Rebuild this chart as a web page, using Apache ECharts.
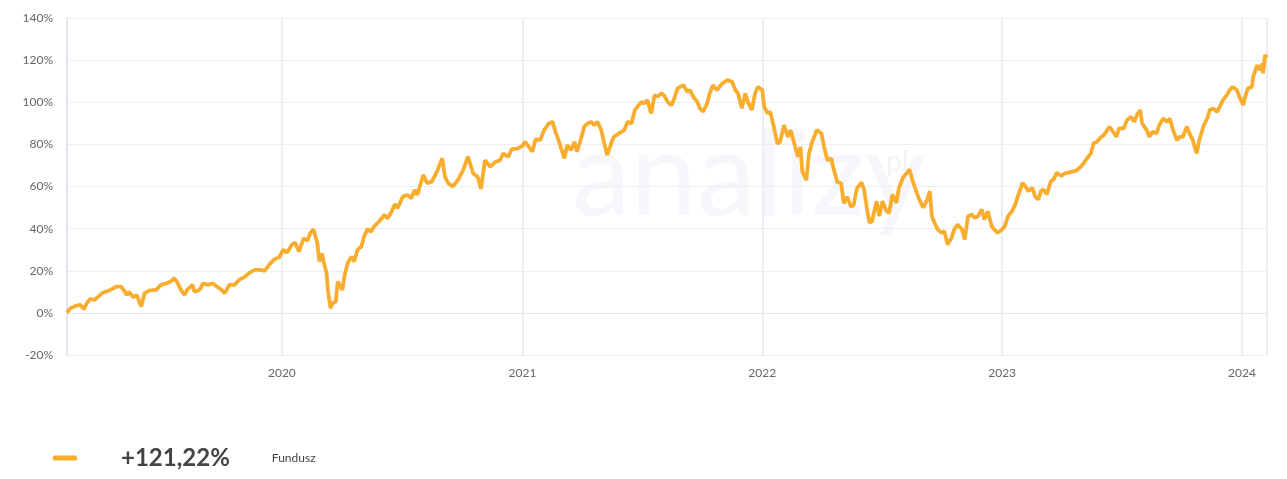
<!DOCTYPE html>
<html>
<head>
<meta charset="utf-8">
<script src="https://cdn.jsdelivr.net/npm/echarts@6/dist/echarts.min.js"></script>
<style>
  html, body { margin: 0; padding: 0; background: #fff; }
  #chart { width: 1287px; height: 479px; }
</style>
</head>
<body>
<div id="chart"></div>
<script>
// daty notowań
var dates = [
  '2019-02-08','2019-02-13','2019-02-21','2019-02-28','2019-03-06','2019-03-10','2019-03-15','2019-03-22',
  '2019-04-02','2019-04-13','2019-04-24','2019-05-01','2019-05-05','2019-05-10','2019-05-13','2019-05-20',
  '2019-05-25','2019-06-01','2019-06-06','2019-06-13','2019-06-24','2019-07-01','2019-07-09','2019-07-16',
  '2019-07-21','2019-07-25','2019-08-01','2019-08-06','2019-08-10','2019-08-18','2019-08-21','2019-08-29',
  '2019-09-03','2019-09-10','2019-09-18','2019-09-24','2019-10-01','2019-10-06','2019-10-13','2019-10-21',
  '2019-10-28','2019-11-06','2019-11-13','2019-11-21','2019-11-28','2019-12-06','2019-12-13','2019-12-21',
  '2019-12-28',
  '2020-01-03','2020-01-09','2020-01-16','2020-01-21','2020-01-27','2020-02-03','2020-02-09','2020-02-13',
  '2020-02-18','2020-02-24','2020-02-27','2020-03-02','2020-03-05','2020-03-09','2020-03-11','2020-03-15',
  '2020-03-18','2020-03-23','2020-03-26','2020-03-30','2020-04-02','2020-04-05','2020-04-10','2020-04-16',
  '2020-04-20','2020-04-25','2020-05-01','2020-05-05','2020-05-10','2020-05-16','2020-05-20','2020-05-28',
  '2020-06-05','2020-06-10','2020-06-16','2020-06-21','2020-06-25','2020-07-03','2020-07-10','2020-07-16',
  '2020-07-21','2020-07-25','2020-08-03','2020-08-09','2020-08-16','2020-08-24','2020-09-01','2020-09-05',
  '2020-09-10','2020-09-17','2020-09-25','2020-10-03','2020-10-10','2020-10-18','2020-10-25','2020-10-30',
  '2020-11-05','2020-11-13','2020-11-21','2020-11-28','2020-12-03','2020-12-10','2020-12-16','2020-12-24',
  '2021-01-01','2021-01-05','2021-01-10','2021-01-16','2021-01-21','2021-01-28','2021-02-03','2021-02-10',
  '2021-02-16','2021-02-21','2021-02-25','2021-03-01','2021-03-06','2021-03-10','2021-03-16','2021-03-21',
  '2021-03-25','2021-04-01','2021-04-05','2021-04-10','2021-04-16','2021-04-20','2021-04-25','2021-05-01',
  '2021-05-05','2021-05-10','2021-05-16','2021-05-20','2021-05-28','2021-06-05','2021-06-10','2021-06-16',
  '2021-06-21','2021-06-25','2021-07-01','2021-07-05','2021-07-10','2021-07-16','2021-07-21','2021-07-25',
  '2021-08-01','2021-08-05','2021-08-10','2021-08-16','2021-08-21','2021-08-25','2021-09-03','2021-09-09',
  '2021-09-13','2021-09-18','2021-09-24','2021-09-28','2021-10-03','2021-10-09','2021-10-13','2021-10-18',
  '2021-10-24','2021-11-01','2021-11-09','2021-11-16','2021-11-21','2021-11-25','2021-12-01','2021-12-06',
  '2021-12-10','2021-12-16','2021-12-21','2021-12-25',
  '2022-01-01','2022-01-04','2022-01-09','2022-01-13','2022-01-18','2022-01-24','2022-01-28','2022-02-03',
  '2022-02-09','2022-02-13','2022-02-18','2022-02-24','2022-02-28','2022-03-03','2022-03-09','2022-03-13',
  '2022-03-18','2022-03-25','2022-04-01','2022-04-05','2022-04-10','2022-04-16','2022-04-20','2022-04-25',
  '2022-05-01','2022-05-05','2022-05-10','2022-05-16','2022-05-20','2022-05-25','2022-06-01','2022-06-05',
  '2022-06-09','2022-06-13','2022-06-17','2022-06-24','2022-06-28','2022-07-03','2022-07-09','2022-07-13',
  '2022-07-18','2022-07-24','2022-07-28','2022-08-03','2022-08-09','2022-08-13','2022-08-18','2022-08-24',
  '2022-08-28','2022-09-03','2022-09-09','2022-09-13','2022-09-16','2022-09-20','2022-09-25','2022-10-01',
  '2022-10-05','2022-10-10','2022-10-16','2022-10-20','2022-10-25','2022-11-01','2022-11-05','2022-11-10',
  '2022-11-16','2022-11-20','2022-11-25','2022-12-01','2022-12-05','2022-12-10','2022-12-16','2022-12-20',
  '2022-12-25',
  '2023-01-01','2023-01-05','2023-01-10','2023-01-16','2023-01-21','2023-01-25','2023-02-01','2023-02-05',
  '2023-02-10','2023-02-16','2023-02-20','2023-02-25','2023-03-01','2023-03-05','2023-03-10','2023-03-16',
  '2023-03-20','2023-03-25','2023-04-01','2023-04-05','2023-04-10','2023-04-24','2023-05-03','2023-05-10',
  '2023-05-16','2023-05-20','2023-05-25','2023-06-01','2023-06-05','2023-06-13','2023-06-17','2023-06-24',
  '2023-06-28','2023-07-05','2023-07-10','2023-07-16','2023-07-21','2023-07-25','2023-07-30','2023-08-02',
  '2023-08-09','2023-08-13','2023-08-18','2023-08-24','2023-08-28','2023-09-03','2023-09-09','2023-09-13',
  '2023-09-18','2023-09-24','2023-09-28','2023-10-03','2023-10-09','2023-10-13','2023-10-18','2023-10-24',
  '2023-10-28','2023-11-03','2023-11-09','2023-11-13','2023-11-18','2023-11-24','2023-11-28','2023-12-03',
  '2023-12-09','2023-12-13','2023-12-18','2023-12-24','2023-12-28',
  '2024-01-03','2024-01-05','2024-01-10','2024-01-16','2024-01-18','2024-01-24','2024-01-28','2024-02-01',
  '2024-02-02','2024-02-05','2024-02-08'
];

// stopa zwrotu funduszu w %
var values = [
  0, 2.2, 3.3, 3.8, 1.7, 4.6, 6.5, 6.2,
  9.3, 10.6, 12.5, 12.5, 11, 8.5, 10, 7.4,
  8.5, 3, 9.3, 10.6, 11, 13.3, 14, 14.9,
  16.5, 14.9, 10.6, 8.5, 11, 13.3, 10, 11,
  14, 13.3, 14, 12.5, 11, 9.3, 13.3, 13.3,
  15.7, 17.2, 19.1, 20.4, 20.4, 20, 23, 25.5,
  26.4,
  29.9, 28.6, 32.3, 33.4, 29.1, 35.4, 34.3, 37.8,
  39.7, 33, 24.4, 28.3, 23.6, 18.8, 10.9, 2.2,
  4.6, 5.4, 14.9, 12.5, 10.9, 17.2, 23.6, 26.7,
  24.4, 29.9, 31.5, 36.2, 39.7, 38.6, 41, 43.4,
  46.5, 44.9, 48.1, 51.7, 49.7, 55.2, 56, 54.4,
  58.4, 56, 65.5, 61.6, 62.3, 67.1, 73.4, 64.7,
  61.6, 60, 63.1, 67.9, 74.2, 66.3, 64.5, 58.8,
  72.5, 69.4, 71.7, 72.5, 75.7, 74.1, 77.7, 78,
  79.3, 81.2, 79.2, 76.5, 82.4, 82, 86.8, 89.9,
  90.7, 85.2, 82, 78, 73.3, 79.6, 77.3, 81.2,
  76.5, 83.6, 88.4, 89.9, 90.7, 89.1, 90.7, 86.8,
  81.2, 74.9, 80.4, 83.6, 85.2, 86.8, 90.7, 89.9,
  96.3, 97.8, 100.2, 99.4, 101, 94.7, 103.4, 102.6,
  104.2, 103, 100.2, 98.6, 102.6, 106.6, 108.1, 105,
  105.8, 102.6, 100.2, 97.1, 95.5, 99.4, 104.2, 108.1,
  105.8, 108.9, 110.5, 109.7, 105.8, 104.2, 97.1, 104.2,
  100.2, 96.3, 104.2, 107.3,
  105.8, 97.8, 94.7, 95.5, 89.1, 80.4, 81.2, 89.1,
  83.6, 86.8, 81.2, 74.1, 78.9, 67, 63, 75.7,
  81.2, 86.8, 85.2, 78.9, 72.5, 73.3, 67.8, 62.2,
  61.5, 52, 55.1, 50.4, 51.2, 59.1, 62, 58.3,
  50, 42.8, 43.5, 53, 45.9, 53, 48.3, 47.5,
  56.2, 52.2, 59.4, 64.1, 66.5, 68.1, 62.5, 57,
  53.8, 49.9, 53.8, 57.8, 45.9, 42.8, 39.6, 38,
  38.8, 32.5, 35.6, 39.6, 42, 39.6, 34.8, 45.9,
  46.7, 45.1, 45.9, 49.1, 44.3, 48.3, 41.2, 39.6,
  38,
  39.6, 41.2, 45.9, 48.3, 51.5, 55.4, 61.7, 60.2,
  57.8, 59.4, 55.4, 53.8, 57.8, 58.6, 56.2, 62.5,
  63.3, 66.5, 65, 66, 66.5, 67.5, 70.2, 73.3,
  75.7, 80.4, 81.2, 83.6, 84.4, 88.4, 86.8, 83.6,
  87.6, 87.6, 91.5, 93.1, 90.7, 93.9, 96.3, 89.9,
  86.8, 83.6, 86, 85.2, 89.1, 92.3, 90.7, 92.3,
  86.8, 82, 83.6, 83.6, 88.4, 85.2, 82, 75.7,
  82, 88.4, 92.3, 96.3, 97.1, 95.5, 97.8, 101,
  103.4, 105.8, 107.3, 105.8, 102.6,
  98.6, 101.8, 106.6, 107.3, 112.1, 117.6, 115.3, 118.4,
  113.7, 122.4, 121.22
];

var yTicks = [-20, 0, 20, 40, 60, 80, 100, 120, 140];
var seriesName = 'Fundusz';
var totalReturn = '+121,22%';

var chart = echarts.init(document.getElementById('chart'));

var seriesData = [];
for (var i = 0; i < dates.length; i++) {
  seriesData.push([dates[i], values[i]]);
}

chart.setOption({
  animation: false,
  textStyle: { fontFamily: 'Lato, "Open Sans", sans-serif' },
  grid: { left: 67, right: 20, top: 18, bottom: 124, containLabel: false },
  graphic: [
    {
      type: 'text',
      left: 572,
      top: 118,
      silent: true,
      z: 0,
      style: {
        text: 'analizy',
        fontSize: 118,
        fontFamily: 'Lato, sans-serif',
        fill: '#f6f7fa'
      }
    },
    {
      type: 'text',
      left: 886,
      top: 148,
      silent: true,
      z: 0,
      style: { text: 'pl', fontSize: 28, fontFamily: 'Lato, sans-serif', fill: '#f2f3f7' }
    }
  ],
  xAxis: {
    type: 'time',
    min: dates[0],
    max: dates[dates.length - 1],
    splitNumber: 5,
    axisLine: { show: true, lineStyle: { color: '#e4e7ee', width: 1 } },
    axisTick: { show: false },
    axisLabel: {
      color: '#666',
      fontSize: 12,
      margin: 12,
      showMinLabel: false,
      showMaxLabel: false,
      formatter: '{yyyy}'
    },
    splitLine: { show: true, lineStyle: { color: '#e6e8ee', width: 1.5 } }
  },
  yAxis: {
    type: 'value',
    min: yTicks[0],
    max: yTicks[yTicks.length - 1],
    interval: 20,
    axisLine: { show: true, lineStyle: { color: '#e1e5ee', width: 2 } },
    axisTick: { show: false },
    axisLabel: { color: '#666', fontSize: 12, margin: 14, formatter: '{value}%' },
    splitLine: { lineStyle: { color: '#eceef2', width: 1 } }
  },
  legend: {
    left: 48,
    top: 441,
    icon: 'roundRect',
    itemWidth: 24,
    itemHeight: 5,
    data: [seriesName],
    formatter: function (name) {
      return '{v|' + totalReturn + '}{n|' + name + '}';
    },
    textStyle: {
      rich: {
        v: { fontSize: 24, fontWeight: 'bold', color: '#444', padding: [0, 42, 0, 39], fontFamily: 'Lato, sans-serif' },
        n: { fontSize: 12, color: '#444', fontFamily: 'Lato, sans-serif' }
      }
    }
  },
  series: [{
    name: seriesName,
    type: 'line',
    data: seriesData,
    showSymbol: false,
    symbol: 'none',
    itemStyle: { color: '#f9ad2f' },
    lineStyle: { color: '#f9ad2f', width: 3.8 },
    z: 3
  }]
});
</script>
</body>
</html>
